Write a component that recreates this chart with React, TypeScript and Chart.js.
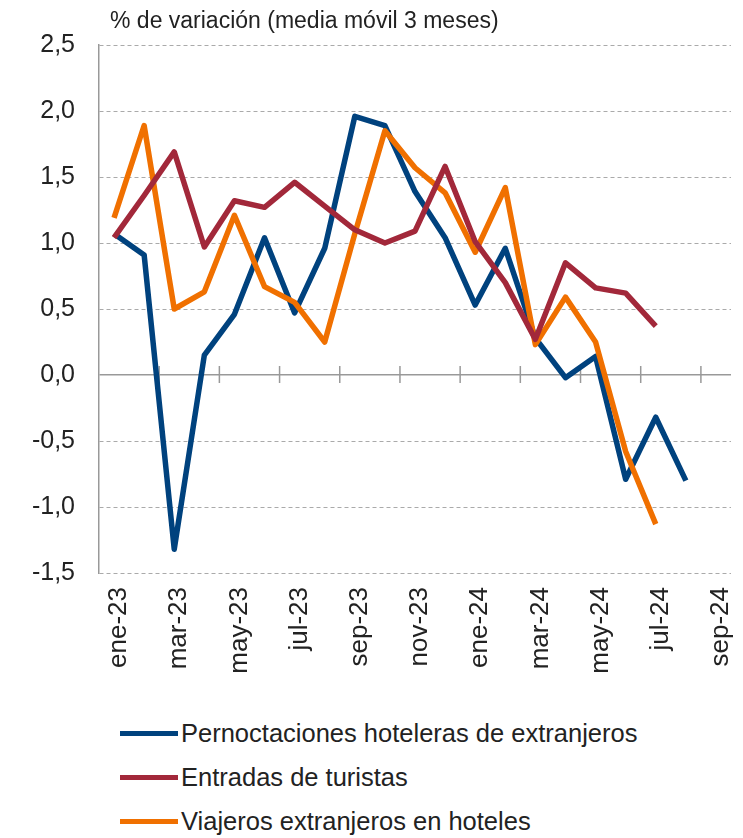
import React, { useEffect, useRef } from 'react';
import { Chart, registerables } from 'chart.js';

Chart.register(...registerables);

const categories = ['ene-23', 'feb-23', 'mar-23', 'abr-23', 'may-23', 'jun-23', 'jul-23', 'ago-23', 'sep-23', 'oct-23', 'nov-23', 'dic-23', 'ene-24', 'feb-24', 'mar-24', 'abr-24', 'may-24', 'jun-24', 'jul-24', 'ago-24', 'sep-24'];
const pernoctaciones = [1.07, 0.91, -1.32, 0.15, 0.46, 1.04, 0.47, 0.96, 1.96, 1.89, 1.39, 1.04, 0.53, 0.96, 0.28, -0.02, 0.14, -0.79, -0.32, -0.80, null];
const entradas = [1.04, 1.36, 1.69, 0.97, 1.32, 1.27, 1.46, 1.28, 1.10, 1.00, 1.09, 1.58, 1.01, 0.70, 0.27, 0.85, 0.66, 0.62, 0.37, null, null];
const viajeros = [1.19, 1.89, 0.50, 0.63, 1.21, 0.67, 0.55, 0.25, 1.07, 1.85, 1.57, 1.38, 0.93, 1.42, 0.23, 0.59, 0.25, -0.58, -1.13, null, null];

const seriesNames = ['Pernoctaciones hoteleras de extranjeros', 'Entradas de turistas', 'Viajeros extranjeros en hoteles'];
const seriesColors = ['#00427E', '#A2283A', '#F07000'];
const yTitle = '% de variación (media móvil 3 meses)';
const yMin = -1.5;
const yMax = 2.5;
const yStep = 0.5;

const FONT = '"Liberation Sans", Arial, Helvetica, sans-serif';

const titlePlugin = {
  id: 'topTitle',
  afterDraw(chart: any) {
    const ctx = chart.ctx;
    ctx.save();
    ctx.font = `23px ${FONT}`;
    ctx.fillStyle = '#222';
    ctx.textAlign = 'left';
    ctx.textBaseline = 'alphabetic';
    ctx.fillText(yTitle, chart.chartArea.left + 11, 28);
    ctx.restore();
  },
};

const zeroTicksPlugin = {
  id: 'zeroTicks',
  beforeDatasetsDraw(chart: any) {
    const xs = chart.scales.x;
    const ys = chart.scales.y;
    const y0 = ys.getPixelForValue(0);
    const ctx = chart.ctx;
    ctx.save();
    ctx.strokeStyle = '#999';
    ctx.lineWidth = 1.5;
    for (let i = 2; i < categories.length; i += 2) {
      const x = (xs.getPixelForValue(i - 1) + xs.getPixelForValue(i)) / 2;
      ctx.beginPath();
      ctx.moveTo(x, y0 - 9);
      ctx.lineTo(x, y0 + 8);
      ctx.stroke();
    }
    ctx.restore();
  },
};

export default function App() {
  const ref = useRef<HTMLCanvasElement | null>(null);

  useEffect(() => {
    document.body.style.margin = '0';
    const canvas = ref.current;
    if (!canvas) return;
    const mk = (label: string, data: any[], color: string) => ({
      label,
      data,
      borderColor: color,
      backgroundColor: color,
      borderWidth: 5.5,
      pointRadius: 0,
      pointHoverRadius: 0,
      tension: 0,
      fill: false,
      spanGaps: false,
      borderCapStyle: 'butt',
      borderJoinStyle: 'round',
    });
    const chart = new Chart(canvas, {
      type: 'line',
      data: {
        labels: categories,
        datasets: [
          mk(seriesNames[1], entradas, seriesColors[1]),
          mk(seriesNames[2], viajeros, seriesColors[2]),
          mk(seriesNames[0], pernoctaciones, seriesColors[0]),
        ],
      },
      options: {
        responsive: false,
        animation: false,
        devicePixelRatio: 1,
        layout: { padding: { top: 45, right: 12, left: 0, bottom: 0 } },
        plugins: {
          legend: { display: false },
          title: { display: false },
          tooltip: { enabled: false },
        },
        scales: {
          x: {
            type: 'category',
            offset: true,
            grid: { display: false, drawTicks: false },
            border: { display: false },
            afterFit: (scale: any) => {
              scale.height = 132;
              scale.paddingLeft = 0;
              scale.paddingRight = 0;
            },
            ticks: {
              autoSkip: false,
              minRotation: 90,
              maxRotation: 90,
              padding: 14,
              labelOffset: 5,
              color: '#222',
              font: { family: FONT, size: 26 },
              callback: (_v: any, i: number) => (i % 2 === 0 ? categories[i] : ''),
            },
          },
          y: {
            min: yMin,
            max: yMax,
            afterFit: (scale: any) => {
              scale.width = 99;
            },
            grid: {
              drawTicks: false,
              color: (ctx: any) => (ctx.tick && ctx.tick.value === 0 ? '#999' : '#aaa'),
              lineWidth: (ctx: any) => (ctx.tick && ctx.tick.value === 0 ? 1.5 : 1),
            },
            border: {
              display: true,
              color: '#999',
              width: 1.5,
              dash: (ctx: any) => (ctx.tick && ctx.tick.value !== 0 ? [4, 3] : []),
            },
            ticks: {
              stepSize: yStep,
              padding: 24,
              color: '#222',
              font: { family: FONT, size: 25 },
              callback: (v: any) => Number(v).toFixed(1).replace('.', ','),
            },
          },
        },
      },
      plugins: [zeroTicksPlugin, titlePlugin],
    } as any);
    return () => chart.destroy();
  }, []);

  const rowCenters = [733, 777, 821];
  return (
    <div style={{ position: 'relative', width: 743, height: 838, overflow: 'hidden' }}>
      <canvas ref={ref} width={743} height={705} style={{ display: 'block', width: 743, height: 705 }} />
      {seriesNames.map((name, i) => (
        <div
          key={name}
          style={{
            position: 'absolute',
            left: 120,
            top: rowCenters[i] - 22,
            height: 44,
            display: 'flex',
            alignItems: 'center',
            whiteSpace: 'nowrap',
            fontFamily: FONT,
            fontSize: 25.5,
            color: '#222',
          }}
        >
          <span style={{ display: 'inline-block', width: 58, height: 5, background: seriesColors[i], marginRight: 3 }} />
          <span>{name}</span>
        </div>
      ))}
    </div>
  );
}
